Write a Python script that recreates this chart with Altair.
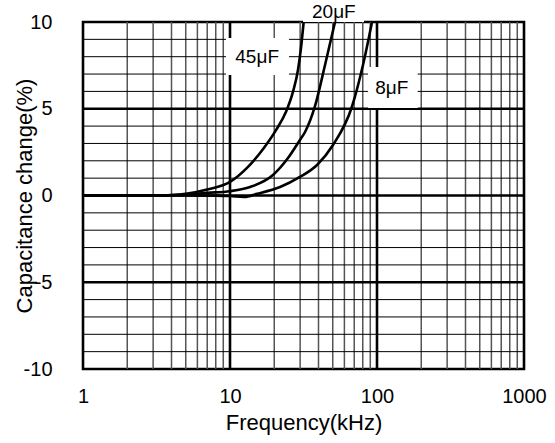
import altair as alt
import pandas as pd

# ---- data ----
freq_45uF = [1, 2, 3, 4, 5, 7, 10, 13.05, 16.8, 20.6, 24.0, 26.8, 29.0, 30.4, 31.7]
cap_45uF = [0, 0, 0, 0.03, 0.1, 0.35, 0.78, 1.59, 2.68, 3.78, 4.81, 5.97, 7.23, 8.5, 10]

freq_20uF = [1, 3, 5, 7, 10, 13.7, 19.6, 24.8, 29.9, 32.4, 37.8, 44.3, 51.8]
cap_20uF = [0, 0, 0.05, 0.15, 0.25, 0.49, 1.18, 2.16, 3.2, 3.66, 5.13, 7.52, 10]

freq_8uF = [1, 5, 8, 10, 12.5, 15.3, 21.9, 29.9, 39.1, 50.2, 67.6, 80.3, 92.5]
cap_8uF = [0, 0, -0.01, -0.03, -0.08, 0.1, 0.49, 1.07, 1.76, 2.91, 5.13, 7.52, 10]

x_minor = [2, 3, 4, 5, 6, 7, 8, 9, 20, 30, 40, 50, 60, 70, 80, 90,
           200, 300, 400, 500, 600, 700, 800, 900]
x_major = [10, 100]
y_minor = [-9, -8, -7, -6, -4, -3, -2, -1, 1, 2, 3, 4, 6, 7, 8, 9]
y_major = [-5, 0, 5]
x_ticks = [1, 10, 100, 1000]
y_ticks = [-10, -5, 0, 5, 10]

label_text = ["45μF", "20μF", "8μF"]
label_x = [15.3, 50.9, 126]
label_y = [7.98, 10.58, 6.2]
box_x1 = [9.39, 31.4, 86.9]
box_x2 = [25.2, 81.6, 189]
box_y1 = [6.95, 10.0, 5.04]
box_y2 = [9.08, 11.27, 7.4]

# ---- tables ----
curves = pd.concat([
    pd.DataFrame({"f": freq_45uF, "c": cap_45uF, "s": "45μF"}),
    pd.DataFrame({"f": freq_20uF, "c": cap_20uF, "s": "20μF"}),
    pd.DataFrame({"f": freq_8uF, "c": cap_8uF, "s": "8μF"}),
])
xminor_df = pd.DataFrame({"v": x_minor})
xmajor_df = pd.DataFrame({"v": x_major})
yminor_df = pd.DataFrame({"v": y_minor})
ymajor_df = pd.DataFrame({"v": y_major})
labels_df = pd.DataFrame({"t": label_text, "x": label_x, "y": label_y,
                          "x1": box_x1, "x2": box_x2, "y1": box_y1, "y2": box_y2})

xscale = alt.Scale(type="log", domain=[1, 1000], nice=False)
yscale = alt.Scale(domain=[-10, 10], nice=False, zero=False)

x_axis = alt.Axis(values=x_ticks, format="d", title="Frequency(kHz)", grid=False,
                  ticks=False, domain=False, labelPadding=17, labelFlush=False,
                  titleBaseline="alphabetic", titleY=60)
y_axis = alt.Axis(values=y_ticks, title="Capacitance change(%)", grid=False,
                  ticks=False, domain=False, labelPadding=31,
                  labelExpr="toString(datum.value)",
                  titleBaseline="alphabetic", titleX=-52, titleAngle=-90)


def X(field):
    return alt.X(field, scale=xscale, axis=x_axis, title="Frequency(kHz)")


def Y(field):
    return alt.Y(field, scale=yscale, axis=y_axis, title="Capacitance change(%)")


vminor = alt.Chart(xminor_df).mark_rule(color="#555555", strokeWidth=1.5).encode(x=X("v:Q"))
hminor = alt.Chart(yminor_df).mark_rule(color="black", strokeWidth=1).encode(y=Y("v:Q"))
vmajor = alt.Chart(xmajor_df).mark_rule(color="black", strokeWidth=2.6).encode(x=X("v:Q"))
hmajor = alt.Chart(ymajor_df).mark_rule(color="black", strokeWidth=2.4).encode(y=Y("v:Q"))

boxes = alt.Chart(labels_df).mark_rect(color="white", opacity=1).encode(
    x=X("x1:Q"), x2="x2:Q", y=Y("y1:Q"), y2="y2:Q")

lines = alt.Chart(curves).mark_line(color="black", strokeWidth=2.6, interpolate="monotone").encode(
    x=X("f:Q"), y=Y("c:Q"), detail="s:N")

texts = alt.Chart(labels_df).mark_text(font="Liberation Sans", fontSize=19, color="black",
                                       align="center", baseline="middle").encode(
    x=X("x:Q"), y=Y("y:Q"), text="t:N")

chart = alt.layer(vminor, hminor, vmajor, hmajor, boxes, lines, texts).properties(
    width=441, height=347,
    autosize=alt.AutoSizeParams(type="none"),
    padding={"left": 83, "top": 22, "right": 31, "bottom": 74},
    background="white",
).configure_view(
    stroke="black", strokeWidth=2.6
).configure_axis(
    labelFont="Liberation Sans", labelFontSize=20, labelColor="black",
    titleFont="Liberation Sans", titleFontSize=22, titleFontWeight="normal",
    titleColor="black"
)

chart.save("out.html", embed_options={"renderer": "svg", "actions": False})
